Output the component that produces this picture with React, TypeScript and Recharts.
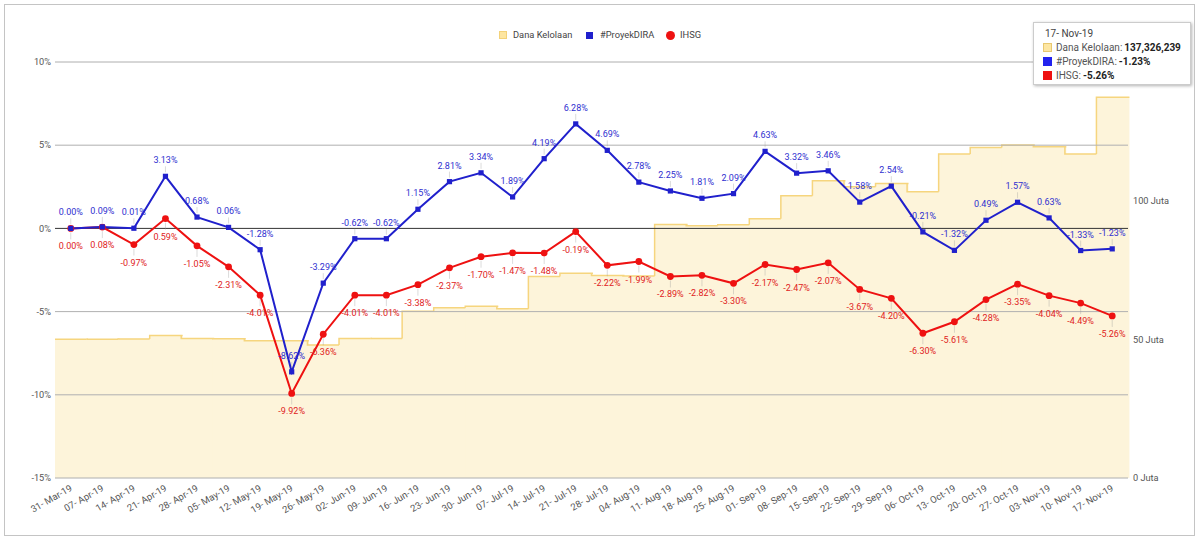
import React from 'react';
import { ComposedChart, Bar, Line, XAxis, YAxis, ReferenceLine, LabelList } from 'recharts';

const categories = [
  '31- Mar-19', '07- Apr-19', '14- Apr-19', '21- Apr-19', '28- Apr-19', '05- May-19', '12- May-19',
  '19- May-19', '26- May-19', '02- Jun-19', '09- Jun-19', '16- Jun-19', '23- Jun-19', '30- Jun-19',
  '07- Jul-19', '14- Jul-19', '21- Jul-19', '28- Jul-19', '04- Aug-19', '11- Aug-19', '18- Aug-19',
  '25- Aug-19', '01- Sep-19', '08- Sep-19', '15- Sep-19', '22- Sep-19', '29- Sep-19', '06- Oct-19',
  '13- Oct-19', '20- Oct-19', '27- Oct-19', '03- Nov-19', '10- Nov-19', '17- Nov-19',
];

const danaKelolaan = [
  50000000, 50000000, 50100000, 51400000, 50300000, 50200000, 49500000,
  49500000, 48000000, 50300000, 50300000, 60100000, 61400000, 61900000,
  61000000, 72700000, 73800000, 73000000, 72800000, 91400000, 91000000,
  91300000, 93500000, 101800000, 107200000, 105000000, 106200000, 103200000,
  116800000, 119200000, 120100000, 119400000, 116800000, 137326239,
];

const proyekDira = [
  0.0, 0.09, 0.01, 3.13, 0.68, 0.06, -1.28,
  -8.62, -3.29, -0.62, -0.62, 1.15, 2.81, 3.34,
  1.89, 4.19, 6.28, 4.69, 2.78, 2.25, 1.81,
  2.09, 4.63, 3.32, 3.46, 1.58, 2.54, -0.21,
  -1.32, 0.49, 1.57, 0.63, -1.33, -1.23,
];

const ihsg = [
  0.0, 0.08, -0.97, 0.59, -1.05, -2.31, -4.01,
  -9.92, -6.36, -4.01, -4.01, -3.38, -2.37, -1.7,
  -1.47, -1.48, -0.19, -2.22, -1.99, -2.89, -2.82,
  -3.3, -2.17, -2.47, -2.07, -3.67, -4.2, -6.3,
  -5.61, -4.28, -3.35, -4.04, -4.49, -5.26,
];

const leftTicks = [-15, -10, -5, 0, 5, 10];
const rightTicks = [0, 50000000, 100000000];
const gridValues = [-15, -10, -5, 5, 10];

const seriesNames = { dana: 'Dana Kelolaan', dira: '#ProyekDIRA', ihsg: 'IHSG' };

const data = categories.map((date, i) => ({
  date,
  dana: danaKelolaan[i],
  dira: proyekDira[i],
  ihsg: ihsg[i],
}));

const AREA_FILL = '#fdf4da';
const AREA_LINE = '#f6d57e';
const BLUE = '#2020cc';
const RED = '#ee1111';
const FONT = 'Roboto, "Noto Sans", sans-serif';

const pct = (v: number) => `${v.toFixed(2)}%`;

const StepShape = (props: any) => {
  const { x, y, width, height } = props;
  const idx = typeof props.index === 'number' ? props.index : categories.indexOf(props.payload?.date);
  const val = danaKelolaan[idx];
  const bottom = y + height;
  const k = val ? height / val : 0;
  const prevTop = idx > 0 ? bottom - danaKelolaan[idx - 1] * k : y;
  return (
    <g>
      <rect x={x} y={y} width={width + 1} height={height} fill={AREA_FILL} />
      <path
        d={idx > 0 ? `M${x},${prevTop}L${x},${y}L${x + width + 1},${y}` : `M${x},${y}L${x + width + 1},${y}`}
        stroke={AREA_LINE}
        strokeWidth={1.5}
        fill="none"
      />
    </g>
  );
};

const SquareDot = (p: any) => {
  if (p.cx == null || p.cy == null) return <g />;
  return <rect x={p.cx - 2.6} y={p.cy - 2.6} width={5.2} height={5.2} fill={BLUE} />;
};

const DiraLabel = (p: any) => {
  const { x, y, value } = p;
  if (x == null || y == null) return null;
  return (
    <g>
      <line x1={x} x2={x} y1={y - 4} y2={y - 10} stroke="#999" strokeOpacity={0.35} />
      <text x={x} y={y - 13} textAnchor="middle" fontSize={9} fill="#2f2fd0" fontFamily={FONT}>
        {pct(Number(value))}
      </text>
    </g>
  );
};

const IhsgLabel = (p: any) => {
  const { x, y, value } = p;
  if (x == null || y == null) return null;
  return (
    <g>
      <line x1={x} x2={x} y1={y + 4} y2={y + 11} stroke="#999" strokeOpacity={0.35} />
      <text x={x} y={y + 21} textAnchor="middle" fontSize={9} fill="#e02222" fontFamily={FONT}>
        {pct(Number(value))}
      </text>
    </g>
  );
};

const XTick = (p: any) => {
  const { x, y, payload } = p;
  const ax = x + 2;
  const ay = y + 12;
  return (
    <text
      x={ax}
      y={ay}
      textAnchor="end"
      fontSize={9.5}
      fill="#555"
      fontFamily={FONT}
      transform={`rotate(-30, ${ax}, ${ay})`}
    >
      {payload.value}
    </text>
  );
};

const last = categories.length - 1;

export default function App() {
  return (
    <div
      style={{
        position: 'absolute',
        left: 0,
        top: 0,
        width: 1200,
        height: 541,
        background: '#fff',
        fontFamily: FONT,
        overflow: 'hidden',
      }}
    >
      <ComposedChart
        width={1200}
        height={541}
        data={data}
        margin={{ top: 62, right: 0, bottom: 0, left: 0 }}
        barCategoryGap={0}
        barGap={0}
      >
        <XAxis
          dataKey="date"
          interval={0}
          height={63}
          axisLine={false}
          tickLine={false}
          tickSize={0}
          tickMargin={0}
          tick={<XTick />}
        />
        <YAxis
          yAxisId="left"
          orientation="left"
          width={55}
          domain={[-15, 10]}
          ticks={leftTicks}
          tickFormatter={(v: number) => `${v}%`}
          axisLine={false}
          tickLine={false}
          tickSize={2}
          tickMargin={2}
          tick={{ fontSize: 9.2, fill: '#555', fontFamily: FONT }}
        />
        <YAxis
          yAxisId="right"
          orientation="right"
          width={72}
          domain={[0, 150000000]}
          ticks={rightTicks}
          tickFormatter={(v: number) => `${v / 1000000} Juta`}
          axisLine={false}
          tickLine={false}
          tickSize={3}
          tickMargin={2}
          tick={{ fontSize: 9.2, fill: '#555', fontFamily: FONT }}
        />
        {gridValues.map((g) => (
          <ReferenceLine key={`bg${g}`} yAxisId="left" y={g} stroke="#cccccc" strokeWidth={1} />
        ))}
        <Bar
          yAxisId="right"
          dataKey="dana"
          name={seriesNames.dana}
          shape={<StepShape />}
          isAnimationActive={false}
        />
        {gridValues.map((g) => (
          <ReferenceLine key={`fg${g}`} yAxisId="left" y={g} stroke="#000" strokeOpacity={0.13} strokeWidth={1} />
        ))}
        <ReferenceLine yAxisId="left" y={0} stroke="#333" strokeWidth={1} />
        <Line
          yAxisId="left"
          dataKey="ihsg"
          name={seriesNames.ihsg}
          type="linear"
          stroke={RED}
          strokeWidth={2}
          dot={{ r: 3.4, fill: RED, stroke: 'none' }}
          activeDot={false}
          isAnimationActive={false}
        >
          <LabelList dataKey="ihsg" content={<IhsgLabel />} />
        </Line>
        <Line
          yAxisId="left"
          dataKey="dira"
          name={seriesNames.dira}
          type="linear"
          stroke={BLUE}
          strokeWidth={2}
          dot={<SquareDot />}
          activeDot={false}
          isAnimationActive={false}
        >
          <LabelList dataKey="dira" content={<DiraLabel />} />
        </Line>
      </ComposedChart>

      {/* legend */}
      <div style={{ position: 'absolute', left: 0, top: 0, fontSize: 9.3, color: '#444' }}>
        <span style={{ position: 'absolute', left: 499, top: 31, width: 8, height: 8, background: '#fde6a2', border: '0.5px solid #f3d27a', boxSizing: 'border-box' }} />
        <span style={{ position: 'absolute', left: 513, top: 29, whiteSpace: 'nowrap', lineHeight: '12px' }}>{seriesNames.dana}</span>
        <span style={{ position: 'absolute', left: 586, top: 32, width: 7, height: 7, background: BLUE }} />
        <span style={{ position: 'absolute', left: 600, top: 29, whiteSpace: 'nowrap', lineHeight: '12px' }}>{seriesNames.dira}</span>
        <span style={{ position: 'absolute', left: 665.5, top: 30.5, width: 9, height: 9, borderRadius: '50%', background: RED }} />
        <span style={{ position: 'absolute', left: 680, top: 29, whiteSpace: 'nowrap', lineHeight: '12px' }}>{seriesNames.ihsg}</span>
      </div>

      {/* tooltip */}
      <div
        style={{
          position: 'absolute',
          left: 1033,
          top: 22,
          width: 158,
          height: 63,
          background: '#fff',
          border: '1px solid #cccccc',
          boxShadow: '1px 1px 3px rgba(0,0,0,0.3)',
          boxSizing: 'border-box',
          fontSize: 10,
          color: '#333',
        }}
      >
        <div style={{ position: 'absolute', left: 11, top: 4, whiteSpace: 'nowrap', lineHeight: '13px', color: '#444' }}>{categories[last]}</div>
        {[
          { name: seriesNames.dana, value: danaKelolaan[last].toLocaleString('en-US'), color: '#fde6a2', border: '#e8c870' },
          { name: seriesNames.dira, value: pct(proyekDira[last]), color: '#2222ee', border: '#2222ee' },
          { name: seriesNames.ihsg, value: pct(ihsg[last]), color: '#ee1111', border: '#ee1111' },
        ].map((row, i) => (
          <div key={row.name} style={{ position: 'absolute', left: 9, top: 18 + i * 14, whiteSpace: 'nowrap', lineHeight: '13px', display: 'flex', alignItems: 'center' }}>
            <span style={{ display: 'inline-block', width: 9, height: 9, background: row.color, border: `1px solid ${row.border}`, boxSizing: 'border-box', marginRight: 4 }} />
            <span style={{ color: '#555' }}>{row.name}: </span>
            <span style={{ fontWeight: 'bold', color: '#222', marginLeft: 2 }}>{row.value}</span>
          </div>
        ))}
      </div>

      {/* outer frame */}
      <div
        style={{
          position: 'absolute',
          left: 4,
          top: 4,
          width: 1191,
          height: 532,
          border: '1.5px solid #c4c4c4',
          boxSizing: 'border-box',
          pointerEvents: 'none',
        }}
      />
    </div>
  );
}
